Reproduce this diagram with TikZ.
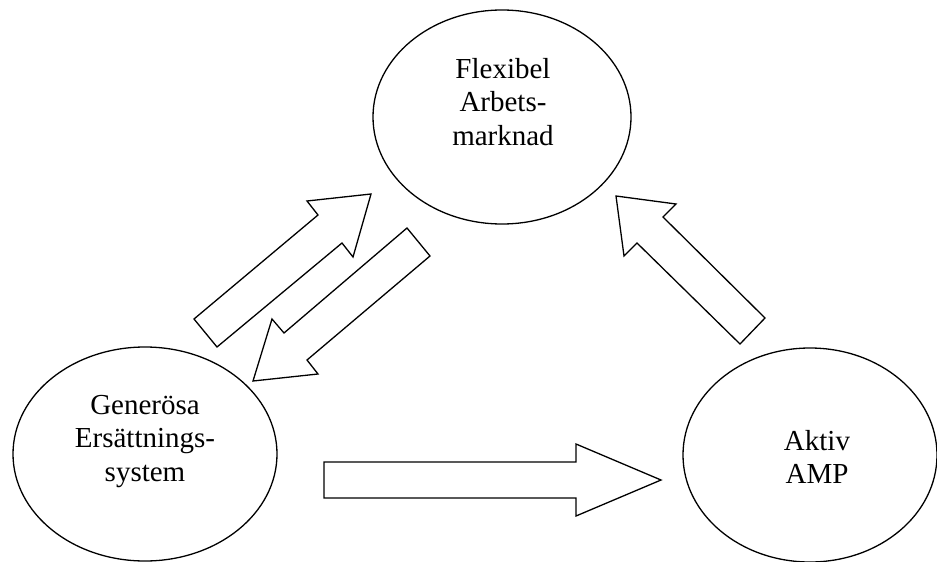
\documentclass[tikz,border=0pt]{standalone}
\usepackage{fontspec}
\setmainfont{Liberation Serif}
\usetikzlibrary{shapes.geometric}
\begin{document}
\begin{tikzpicture}[x=1pt,y=-1pt,
  oval/.style={draw, ellipse, line width=1.3pt, inner sep=0pt},
  lbl/.style={anchor=north, inner sep=0pt, align=center, font=\fontsize{29}{33.5}\selectfont},
  blockarrow/.style={draw, line width=1.3pt, line join=miter, fill=white}]
\useasboundingbox (0,0) rectangle (937,562);
% ellipses
\node[oval, minimum width=258pt, minimum height=214pt] (flex) at (502,117) {};
\node[oval, minimum width=264pt, minimum height=214pt] (gen) at (145,454) {};
\node[oval, minimum width=254pt, minimum height=214pt] (akt) at (810,455) {};
% texts
\node[lbl] (flext) at (503,58) {Flexibel\\Arbets-\\marknad};
\node[lbl] (gent) at (145,395) {Generösa\\Ersättnings-\\system};
\node[lbl] (aktt) at (817,430) {Aktiv\\AMP};
% block arrows
\draw[blockarrow] (194,319) -- (318,215) -- (307,201) -- (371,194) -- (353,257) -- (342,243) -- (217,347) -- cycle;
\draw[blockarrow] (407,228) -- (430,256) -- (307,360) -- (318,374) -- (253,381) -- (272,319) -- (284,333) -- cycle;
\draw[blockarrow] (324,462) -- (576,462) -- (576,444) -- (661,480) -- (576,516) -- (576,498) -- (324,498) -- cycle;
\draw[blockarrow] (616,196) -- (676,204) -- (663,217) -- (765,318) -- (740,344) -- (637,243) -- (624,256) -- cycle;
\end{tikzpicture}
\end{document}
